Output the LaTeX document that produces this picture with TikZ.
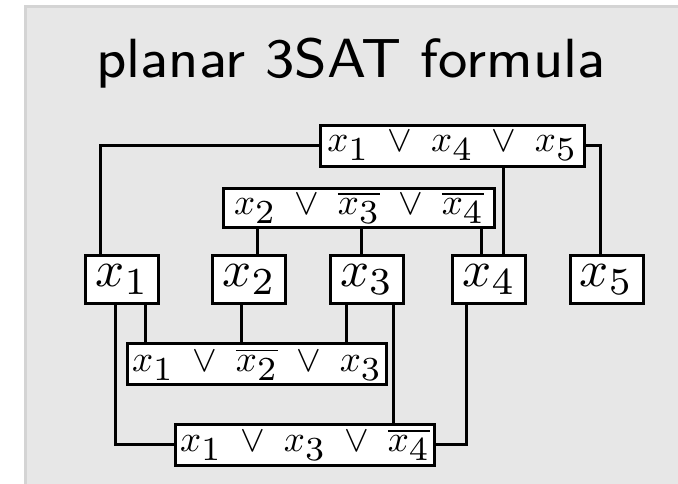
\documentclass[tikz,border=0pt]{standalone}
\usepackage{graphicx}
\definecolor{bgfill}{RGB}{231,231,231}
\definecolor{bgedge}{RGB}{212,212,212}
\newcommand\lit[1]{x_{\scalebox{1.3}{$\scriptstyle#1$}}}
\newcommand\nlit[1]{\overline{x_{\scalebox{1.3}{$\scriptstyle#1$}}}}
\newcommand\orr{\mkern5mu\vee\mkern5mu}
\newcommand\cltext[1]{\scalebox{3.7}{\normalsize #1}}
\newcommand\vartext[1]{\scalebox{5.1}{\normalsize $x_{\scalebox{1.07}{$\scriptstyle#1$}}$}\hspace{8pt}}
\pgfdeclarelayer{bglayer}
\pgfdeclarelayer{wirelayer}
\pgfsetlayers{bglayer,wirelayer,main}
\begin{document}
\begin{tikzpicture}[x=1pt,y=-1pt,
  var/.style={draw, fill=white, line width=3pt, minimum width=73pt, minimum height=48pt, inner sep=0pt},
  clause/.style={draw, fill=white, line width=3pt, minimum height=41pt, inner sep=0pt},
  wire/.style={line width=3pt}]
\useasboundingbox (0,0) rectangle (678,484);
\begin{pgfonlayer}{bglayer}
\fill[bgedge] (24,5) rectangle (678,484);
\fill[bgfill] (27,8) rectangle (678,484);
\end{pgfonlayer}
\node[anchor=base, inner sep=0pt] (title) at (351,78) {\scalebox{6.9}{\fontsize{8}{10}\selectfont\sffamily planar 3SAT formula}};

\node[clause, minimum width=264pt] (c1) at (452.2,145.9) {\cltext{$\lit1\orr\lit4\orr\lit5$}};
\node[clause, minimum width=271pt, minimum height=39pt] (c2) at (359,207.7) {\cltext{$\lit2\orr\nlit3\orr\nlit4$}};
\node[var] (x1) at (122.3,279.8) {\vartext{1}};
\node[var] (x2) at (249.2,279.8) {\vartext{2}};
\node[var] (x3) at (366.8,279.8) {\vartext{3}};
\node[var] (x4) at (489.2,279.8) {\vartext{4}};
\node[var] (x5) at (606.5,279.8) {\vartext{5}};
\node[clause, minimum width=259pt] (c3) at (257,364.3) {\cltext{$\lit1\orr\nlit2\orr\lit3$}};
\node[clause, minimum width=259pt] (c4) at (305,444.7) {\cltext{$\lit1\orr\lit3\orr\nlit4$}};

\begin{pgfonlayer}{wirelayer}
\draw[wire] ([xshift=-22pt]x1.north) |- (c1.west);
\draw[wire] ([xshift=-6.5pt]x5.north) |- (c1.east);
\draw[wire] ([xshift=51.3pt]c1.south) -- ([xshift=14.3pt]x4.north);
\draw[wire] ([xshift=-102pt]c2.south) -- ([xshift=7.8pt]x2.north);
\draw[wire] ([xshift=2.5pt]c2.south) -- ([xshift=-5.3pt]x3.north);
\draw[wire] ([xshift=122pt]c2.south) -- ([xshift=-8.2pt]x4.north);
\draw[wire] ([xshift=-6.8pt]x1.south) |- (c4.west);
\draw[wire] ([xshift=22.7pt]x1.south) -- ([xshift=-112pt]c3.north);
\draw[wire] ([xshift=-7.7pt]x2.south) -- ([xshift=-15.5pt]c3.north);
\draw[wire] ([xshift=-20.1pt]x3.south) -- ([xshift=89.7pt]c3.north);
\draw[wire] ([xshift=26.5pt]x3.south) -- ([xshift=88.3pt]c4.north);
\draw[wire] ([xshift=-23.2pt]x4.south) |- (c4.east);
\end{pgfonlayer}
\end{tikzpicture}
\end{document}
